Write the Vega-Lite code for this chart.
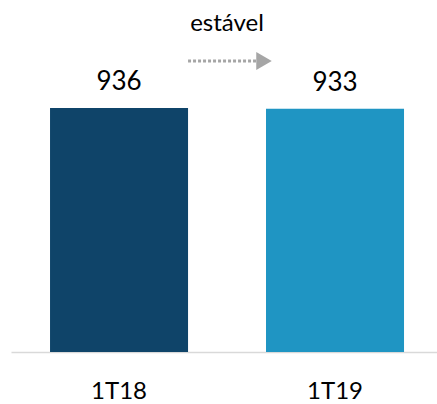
{
  "$schema": "https://vega.github.io/schema/vega-lite/v6.json",
  "autosize": {"type": "none"},
  "width": 426,
  "height": 352,
  "padding": {"left": 11, "top": 0, "right": 0, "bottom": 52},
  "background": "white",
  "config": {"view": {"stroke": null}, "font": "Lato"},
  "datasets": {
    "bars": [
      {"periodo": "1T18", "valor": 936},
      {"periodo": "1T19", "valor": 933}
    ],
    "note": [
      {"from": "1T18", "to": "1T19", "label": "estável", "textY": 1231, "arrowY": 1116}
    ]
  },
  "layer": [
    {
      "data": {"name": "bars"},
      "mark": {"type": "bar"},
      "encoding": {
        "x": {
          "field": "periodo", "type": "nominal",
          "scale": {"domain": ["1T18", "1T19"], "paddingInner": 0.361, "paddingOuter": 0.1667, "align": 0.542},
          "axis": {
            "title": null, "ticks": false, "labelAngle": 0,
            "domainColor": "#D9D9D9", "domainWidth": 1.5,
            "labelFontSize": 24, "labelColor": "#000000", "labelFont": "Lato",
            "labelPadding": 27
          }
        },
        "y": {
          "field": "valor", "type": "quantitative",
          "scale": {"domain": [0, 1350], "nice": false},
          "axis": null
        },
        "color": {
          "field": "periodo", "type": "nominal",
          "scale": {"domain": ["1T18", "1T19"], "range": ["#0F4469", "#1F95C3"]},
          "legend": null
        }
      }
    },
    {
      "data": {"name": "bars"},
      "mark": {"type": "text", "baseline": "alphabetic", "dy": -18, "fontSize": 26, "color": "#000000"},
      "encoding": {
        "x": {"field": "periodo", "type": "nominal"},
        "y": {"field": "valor", "type": "quantitative"},
        "text": {"field": "valor", "type": "quantitative"}
      }
    },
    {
      "data": {"name": "note"},
      "mark": {"type": "text", "baseline": "alphabetic", "fontSize": 24, "color": "#000000", "dx": 39},
      "encoding": {
        "x": {"field": "from", "type": "nominal", "bandPosition": 1},
        "y": {"field": "textY", "type": "quantitative"},
        "text": {"field": "label"}
      }
    },
    {
      "data": {"name": "note"},
      "mark": {"type": "rule", "stroke": "#A6A6A6", "strokeWidth": 3, "strokeDash": [3, 2], "x2Offset": -10},
      "encoding": {
        "x": {"field": "from", "type": "nominal", "bandPosition": 1},
        "x2": {"field": "to", "bandPosition": 0},
        "y": {"field": "arrowY", "type": "quantitative"}
      }
    },
    {
      "data": {"name": "note"},
      "mark": {"type": "point", "shape": "triangle-right", "filled": true, "color": "#A6A6A6", "opacity": 1, "size": 320, "xOffset": -2},
      "encoding": {
        "x": {"field": "to", "type": "nominal", "bandPosition": 0},
        "y": {"field": "arrowY", "type": "quantitative"}
      }
    }
  ]
}
